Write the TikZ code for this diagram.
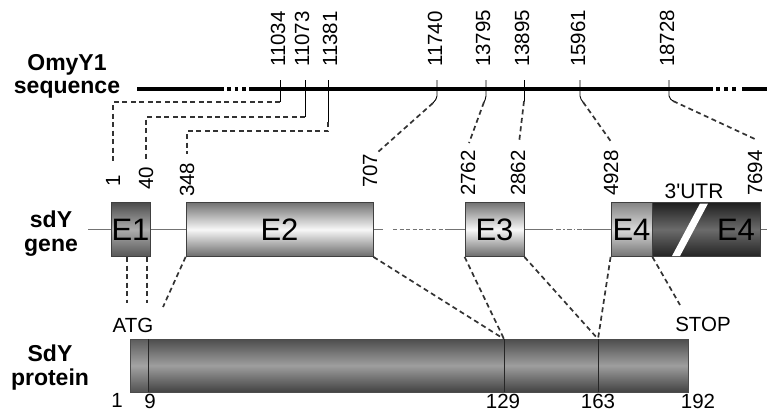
\documentclass[tikz,border=0pt]{standalone}
\usepackage{fontspec}
\setmainfont{Liberation Sans}[Ligatures=TeXOff]
\begin{document}
\begin{tikzpicture}[x=1pt,y=-1pt,
  numlab/.style={font=\fontsize{20.5}{22}\selectfont, rotate=90, anchor=west, inner sep=0pt},
  botlab/.style={font=\fontsize{20.5}{22}\selectfont, anchor=north, inner sep=0pt},
  marklab/.style={font=\fontsize{20.5}{22}\selectfont, anchor=base, inner sep=0pt},
  rowtitle/.style={font=\fontsize{23}{23.5}\selectfont\bfseries, align=center, anchor=north, inner sep=0pt},
  exon/.style={draw=black!75, line width=0.8pt, inner sep=0pt, minimum height=54pt,
    font=\fontsize{31}{31}\selectfont},
  link/.style={draw=black!80, line width=1.7pt, dash pattern=on 5pt off 3.5pt},
  tick/.style={draw=black, line width=0.9pt},
  backbone/.style={draw=black!55, line width=0.9pt},
  seqline/.style={draw=black, line width=4pt},
  divider/.style={draw=black!85, line width=0.9pt},
  shadeA/.style={top color=black!70, bottom color=black!66, middle color=black!32},
  shadeB/.style={top color=black!55, bottom color=black!58, middle color=black!3},
  shadeC/.style={top color=black!48, bottom color=black!55, middle color=black!15},
  shadeD/.style={top color=black!88, bottom color=black!86, middle color=black!58},
  shadeP/.style={top color=black!70, bottom color=black!74, middle color=black!38},
]
\useasboundingbox (0,0) rectangle (767,413);

% ---------- OmyY1 genomic sequence ----------
\node[rowtitle] (tseq) at (67,54) {OmyY1\\sequence};
\draw[seqline] (137,89) -- (224,89);
\draw[seqline, dash pattern=on 3.5pt off 4pt] (227,89) -- (246,89);
\draw[seqline] (249,89) -- (713,89);
\draw[seqline, dash pattern=on 3.5pt off 4.5pt] (716,89) -- (738,89);
\draw[seqline] (742,89) -- (767,89);

\node[numlab] (s1) at (278,67) {11034};
\node[numlab] (s2) at (302,67) {11073};
\node[numlab] (s3) at (330,67) {11381};
\node[numlab] (s4) at (435,67) {11740};
\node[numlab] (s5) at (483,67) {13795};
\node[numlab] (s6) at (522,67) {13895};
\node[numlab] (s7) at (578,67) {15961};
\node[numlab] (s8) at (667,67) {18728};

% ---------- sdY gene ----------
\node[rowtitle] (tgene) at (51,211) {sdY\\gene};
\draw[backbone] (88,229.5) -- (111,229.5);
\draw[backbone] (150,229.5) -- (186,229.5);
\draw[backbone] (373,229.5) -- (383,229.5);
\draw[backbone, dash pattern=on 4pt off 2.5pt] (393,229.5) -- (445,229.5);
\draw[backbone] (445,229.5) -- (465,229.5);
\draw[backbone] (524,229.5) -- (553,229.5);
\draw[backbone, dash pattern=on 5pt off 2pt on 1.5pt off 2pt] (556,229.5) -- (583,229.5);
\draw[backbone] (583,229.5) -- (611,229.5);
\draw[backbone] (760,229.5) -- (767,229.5);

\node[exon, shadeA, minimum width=39pt]  (e1)  at (130.5,229.5) {E1};
\node[exon, shadeB, minimum width=187pt] (e2)  at (279.5,229.5) {E2};
\node[exon, shadeB, minimum width=59pt]  (e3)  at (494.5,229.5) {E3};
\node[exon, shadeC, minimum width=41pt]  (e4a) at (631.5,229.5) {E4};
\node[exon, shadeD, minimum width=108pt] (e4b) at (706,229.5) {};
\fill[white] (700,203.5) -- (708,203.5) -- (680,256) -- (672,256) -- cycle;
\node[font=\fontsize{31}{31}\selectfont, inner sep=0pt] (e4t) at (736,229.5) {E4};
\node[marklab, font=\fontsize{21}{22}\selectfont] (utr) at (694,198) {3'UTR};

\node[numlab] (g1) at (113,187) {1};
\node[numlab] (g2) at (146,190) {40};
\node[numlab] (g3) at (187,197) {348};
\node[numlab] (g4) at (370,188) {707};
\node[numlab] (g5) at (468,196) {2762};
\node[numlab] (g6) at (518,196) {2862};
\node[numlab] (g7) at (611,196) {4928};
\node[numlab] (g8) at (755,196) {7694};

% ---------- sequence positions to exon boundaries ----------
\coordinate (c1) at (113,163);
\coordinate (c2) at (146,159);
\coordinate (c3) at (187,154);
\coordinate (c4) at (378,152);
\coordinate (c5) at (469,143);
\coordinate (c6) at (519,143);
\coordinate (c7) at (612,143);
\coordinate (c8) at (757,140);

\draw[tick] (280,80) -- (280,102);
\draw[link] (280,102) -| (c1);
\draw[tick] (305,80) -- (305,117);
\draw[link] (305,117) -| (c2);
\draw[tick] (328,80) -- (328,122);
\draw[link] (328,122) -- (328,131) -| (c3);
\draw[tick, rounded corners=2pt] (437,80) -- (437,98) -- (433,103);
\draw[link] (433,103) -- (c4);
\draw[tick, rounded corners=2pt] (486,80) -- (486,98) -- (484,102);
\draw[link] (484,102) -- (c5);
\draw[tick] (524,80) -- (524,101);
\draw[link] (524,101) -- (c6);
\draw[tick, rounded corners=2pt] (580,80) -- (580,98) -- (583,102);
\draw[link] (583,102) -- (c7);
\draw[tick, rounded corners=2pt] (669,80) -- (669,98) -- (673,101);
\draw[link] (673,101) -- (c8);

% ---------- SdY protein ----------
\node[rowtitle] (tprot) at (50,345) {SdY\\protein};
\node[draw=black!70, line width=0.6pt, shadeP, inner sep=0pt,
      minimum width=558pt, minimum height=53pt] (prot) at (409,365.5) {};
\node[draw=black!70, line width=0.6pt, top color=black!64, bottom color=black!68,
      middle color=black!36, inner sep=0pt,
      minimum width=18pt, minimum height=53pt] (pstart) at (139,365.5) {};
\coordinate (d9)   at (148,339);
\coordinate (d129) at (504,339);
\coordinate (d163) at (598,339);
\draw[divider] (d9)   -- (148,392);
\draw[divider] (d129) -- (504,392);
\draw[divider] (d163) -- (598,392);

\node[marklab] (atg)  at (133,332) {ATG};
\node[marklab] (stop) at (703,331) {STOP};
\coordinate (a1) at (127,303);
\coordinate (a2) at (147,303);
\coordinate (a3) at (163,307);
\coordinate (sp) at (680,305);

\draw[link] (127,257) -- (a1);
\draw[link] (147,257) -- (a2);
\draw[link] (e2.south west) -- (a3);
\draw[link] (e2.south east) -- (d129);
\draw[link] (e3.south west) -- (d129);
\draw[link] (e3.south east) -- (d163);
\draw[link] (e4a.south west) -- (d163);
\draw[link] (e4a.south east) -- (sp);

\node[botlab] (p1)   at (117,393.5) {1};
\node[botlab] (p9)   at (150,393.5) {9};
\node[botlab] (p129) at (503,393.5) {129};
\node[botlab] (p163) at (598,393.5) {163};
\node[botlab] (p192) at (698,393.5) {192};
\end{tikzpicture}
\end{document}
